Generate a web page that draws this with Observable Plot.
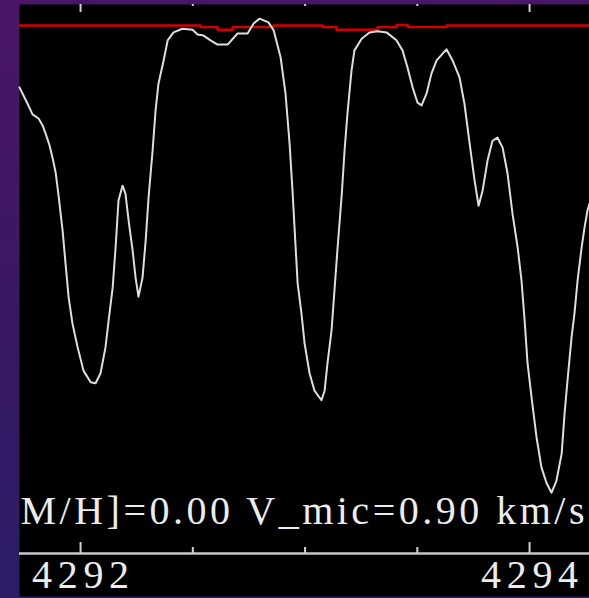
<!DOCTYPE html>
<html>
<head>
<meta charset="utf-8">
<script src="https://cdn.jsdelivr.net/npm/d3@7"></script>
<script src="https://cdn.jsdelivr.net/npm/@observablehq/plot@0.6"></script>
<style>
  html, body { margin: 0; padding: 0; }
  body { width: 589px; height: 598px; overflow: hidden;
         background: linear-gradient(180deg, #4a1566 0%, #3a1862 50%, #2c1d66 100%); }
  #chart svg { display: block; }
</style>
</head>
<body>
<div id="chart"></div>
<script>
// Synthetic spectrum (wavelength in Å, normalized flux)
const wavelength = [
  4291.728, 4291.742, 4291.764, 4291.786, 4291.813, 4291.831, 4291.844, 4291.862, 4291.875, 4291.889,
  4291.902, 4291.920, 4291.933, 4291.947, 4291.964, 4291.987, 4292.013, 4292.045, 4292.067, 4292.089,
  4292.111, 4292.125, 4292.143, 4292.156, 4292.169, 4292.187, 4292.200, 4292.214, 4292.232, 4292.245,
  4292.258, 4292.276, 4292.290, 4292.303, 4292.321, 4292.334, 4292.347, 4292.370, 4292.388, 4292.414,
  4292.454, 4292.499, 4292.521, 4292.548, 4292.579, 4292.610, 4292.655, 4292.699, 4292.744, 4292.771,
  4292.797, 4292.837, 4292.860, 4292.891, 4292.913, 4292.931, 4292.944, 4292.958, 4292.967, 4292.984,
  4292.998, 4293.020, 4293.042, 4293.073, 4293.087, 4293.100, 4293.118, 4293.131, 4293.145, 4293.163,
  4293.176, 4293.189, 4293.207, 4293.220, 4293.252, 4293.287, 4293.323, 4293.363, 4293.407, 4293.434,
  4293.456, 4293.479, 4293.501, 4293.519, 4293.541, 4293.563, 4293.586, 4293.630, 4293.657, 4293.688,
  4293.710, 4293.733, 4293.755, 4293.773, 4293.791, 4293.813, 4293.835, 4293.857, 4293.880, 4293.902,
  4293.924, 4293.947, 4293.964, 4293.978, 4293.991, 4294.009, 4294.031, 4294.053, 4294.076, 4294.098,
  4294.120, 4294.143, 4294.156, 4294.169, 4294.187, 4294.200, 4294.214, 4294.232, 4294.245, 4294.258,
  4294.267
];
const flux = [
  0.882, 0.870, 0.851, 0.831, 0.823, 0.810, 0.795, 0.772, 0.749, 0.721,
  0.677, 0.611, 0.549, 0.484, 0.435, 0.390, 0.346, 0.324, 0.322, 0.341,
  0.390, 0.441, 0.503, 0.579, 0.668, 0.696, 0.681, 0.630, 0.573, 0.522,
  0.486, 0.522, 0.592, 0.674, 0.763, 0.838, 0.889, 0.933, 0.971, 0.986,
  0.993, 0.991, 0.982, 0.980, 0.971, 0.963, 0.963, 0.984, 0.984, 1.003,
  1.012, 1.005, 0.990, 0.939, 0.870, 0.776, 0.687, 0.579, 0.511, 0.454,
  0.397, 0.341, 0.308, 0.290, 0.308, 0.360, 0.422, 0.498, 0.579, 0.677,
  0.763, 0.833, 0.914, 0.952, 0.974, 0.986, 0.988, 0.986, 0.971, 0.952,
  0.920, 0.882, 0.853, 0.848, 0.870, 0.908, 0.933, 0.954, 0.933, 0.901,
  0.851, 0.776, 0.706, 0.658, 0.687, 0.744, 0.781, 0.787, 0.768, 0.719,
  0.643, 0.579, 0.517, 0.441, 0.360, 0.295, 0.220, 0.163, 0.133, 0.115,
  0.138, 0.189, 0.265, 0.327, 0.409, 0.454, 0.517, 0.579, 0.617, 0.649,
  0.662
];

// Continuum (red), stepwise
const contWavelength = [4291.728, 4292.535, 4292.610, 4292.677, 4292.860, 4293.078, 4293.140, 4293.323, 4293.408, 4293.457, 4293.630, 4294.267];
const contFlux       = [0.999,    0.996,    0.991,    0.996,    0.999,    0.996,    0.991,    0.996,    1.000,    0.996,    0.999,    0.999];

const majorTicks = [4292, 4294];
const minorTicks = [4292.5, 4293, 4293.5];
const tickLabels = ["4292", "4294"];
const annotation = ["M/H]=0.00 V_mic=0.90 km/s"];

const spectrum = wavelength.map((w, i) => ({w, f: flux[i]}));
const continuum = contWavelength.map((w, i) => ({w, f: contFlux[i]}));
const labels = majorTicks.map((t, i) => ({t, label: tickLabels[i]}));

const W = 589, H = 598, mt = 4, mb = 2;
const plotH = H - mt - mb;
const serif = "'Liberation Serif', 'DejaVu Serif', serif";

const plot = Plot.plot({
  width: W,
  height: H,
  marginLeft: 19,
  marginRight: 0,
  marginTop: mt,
  marginBottom: mb,
  style: {background: "transparent"},
  x: {domain: [4291.728, 4294.267], axis: null},
  y: {domain: [-0.0814, 1.0388], axis: null},
  marks: [
    Plot.frame({fill: "black", stroke: "none"}),
    // top ticks
    Plot.tickX(majorTicks, {x: d => d, stroke: "#d0d0d0", strokeWidth: 2, insetBottom: plotH - 8}),
    Plot.tickX(minorTicks, {x: d => d, stroke: "#d0d0d0", strokeWidth: 2, insetBottom: plotH - 2}),
    // bottom axis
    Plot.ruleY([0], {stroke: "#c8c8c8", strokeWidth: 2.5}),
    Plot.tickX(majorTicks, {x: d => d, stroke: "#d0d0d0", strokeWidth: 2, insetTop: 538, insetBottom: 43}),
    Plot.tickX(minorTicks, {x: d => d, stroke: "#d0d0d0", strokeWidth: 2, insetTop: 543, insetBottom: 43}),
    Plot.text(labels, {x: "t", text: "label", frameAnchor: "bottom", dy: -9, lineAnchor: "bottom",
      fontFamily: serif, fontSize: 40, fill: "#ececec", className: "ticklabel"}),
    // continuum and spectrum
    Plot.line(continuum, {x: "w", y: "f", curve: "step-after", stroke: "#d40000", strokeWidth: 2.4}),
    Plot.line(spectrum, {x: "w", y: "f", stroke: "#dedede", strokeWidth: 2, curve: "linear"}),
    // annotation
    Plot.text(annotation, {frameAnchor: "bottom-left", dx: 1, dy: -73, lineAnchor: "bottom", textAnchor: "start",
      fontFamily: serif, fontSize: 40, fill: "#ececec", className: "annot"})
  ]
});
document.getElementById("chart").appendChild(plot);
// stretch the Hershey-like text to the widths seen in the reference
d3.select(plot).selectAll(".annot text").attr("textLength", 564).attr("lengthAdjust", "spacing");
d3.select(plot).selectAll(".ticklabel text").attr("textLength", 97).attr("lengthAdjust", "spacing");
</script>
</body>
</html>
